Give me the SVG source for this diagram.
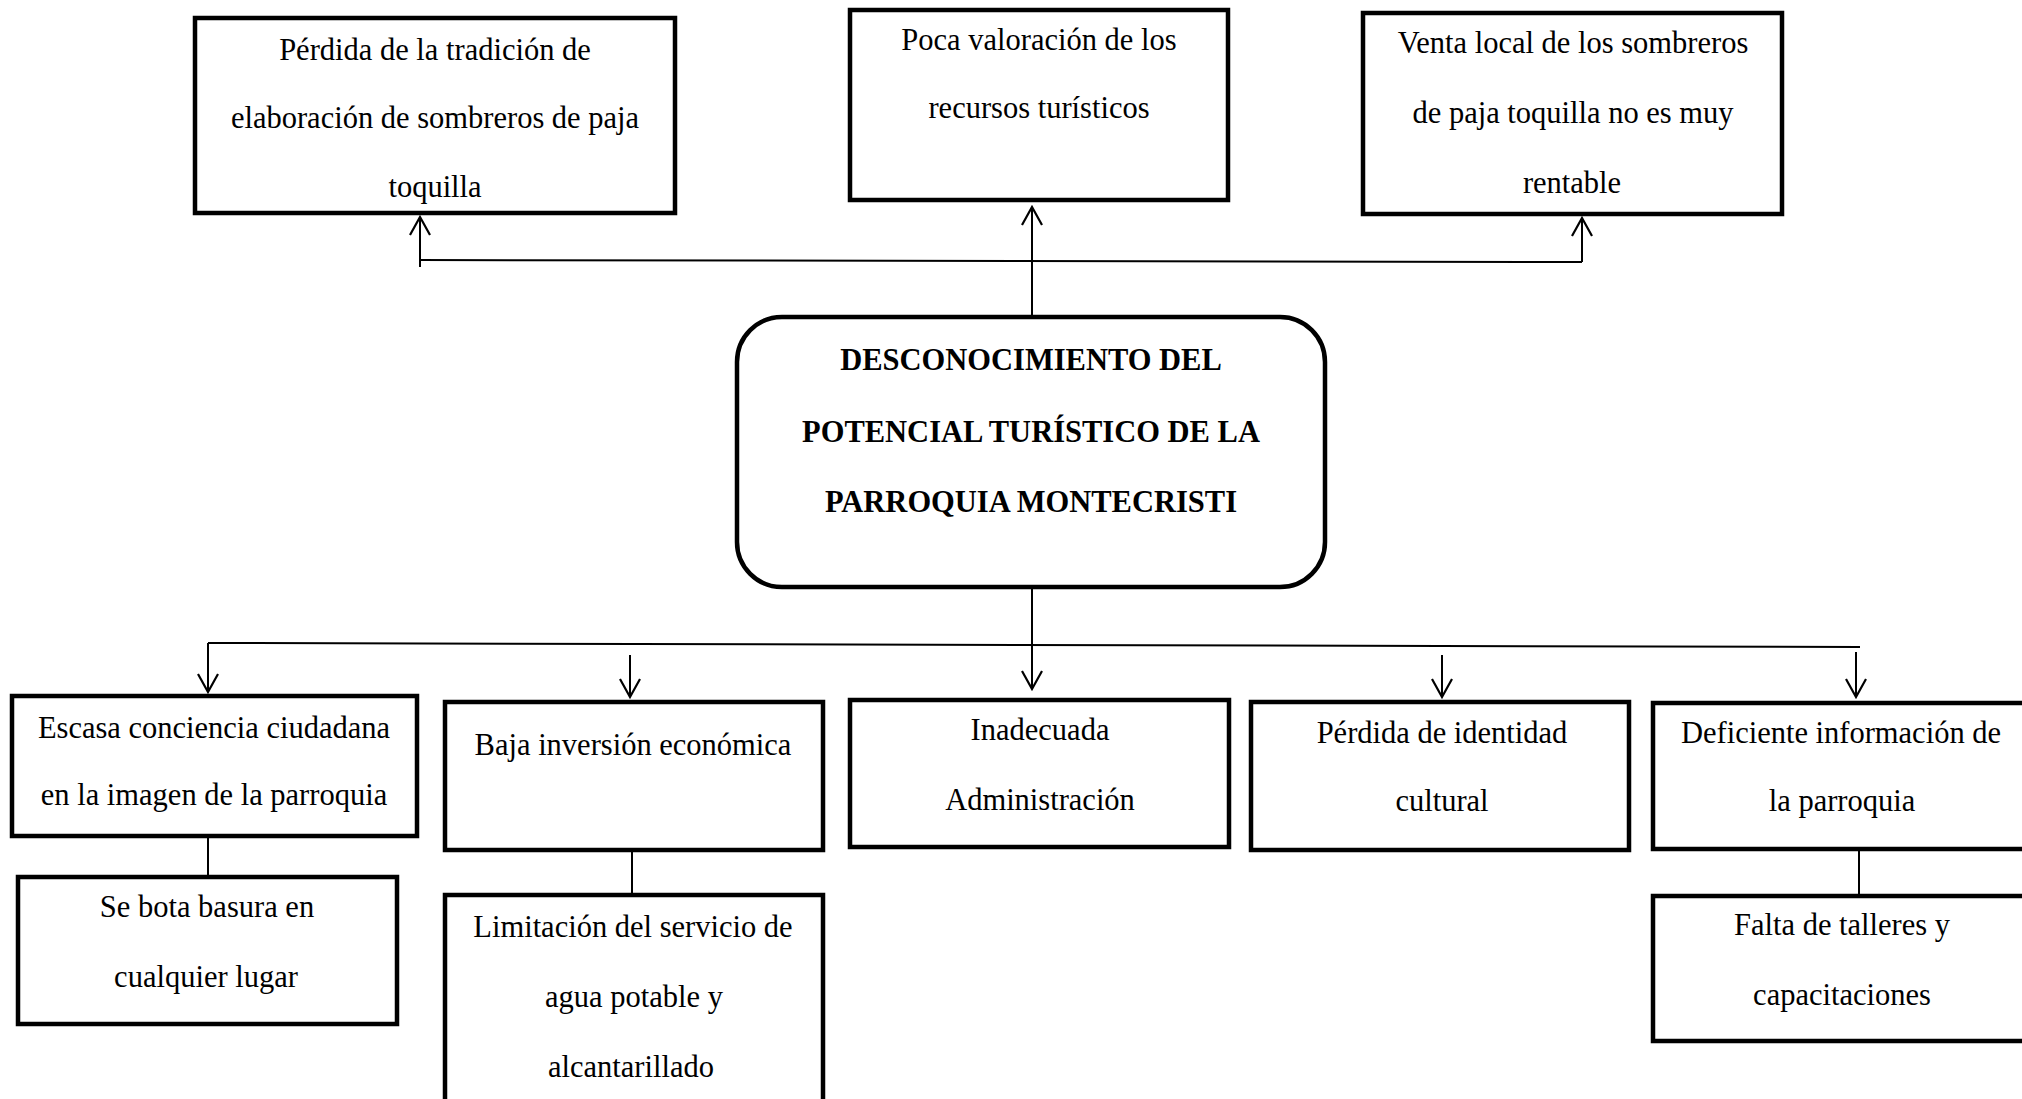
<svg xmlns="http://www.w3.org/2000/svg" width="2022" height="1099" viewBox="0 0 2022 1099">
<style>
.box{fill:#fff;stroke:#000;stroke-width:4.5}
.main{fill:#fff;stroke:#000;stroke-width:4.5}
.t{font-family:"Liberation Serif","Times New Roman",serif;font-size:30.5px;fill:#000;text-anchor:middle}
.b{font-weight:bold}
.c{stroke:#000;stroke-width:2;fill:none}
</style>
<defs>
<marker id="ah" markerUnits="userSpaceOnUse" viewBox="-20 -12 22 24" refX="0" refY="0" markerWidth="22" markerHeight="24" orient="auto">
<path d="M-18,-10 L0,0 L-18,10" fill="none" stroke="#000" stroke-width="2.2"/>
</marker>
</defs>
<rect width="2022" height="1099" fill="#fff"/>
<g id="connectors">
<line class="c" x1="420" y1="260" x2="1582" y2="262"/>
<line class="c" x1="420" y1="267" x2="420" y2="217" marker-end="url(#ah)"/>
<line class="c" x1="1032" y1="317" x2="1032" y2="207" marker-end="url(#ah)"/>
<line class="c" x1="1582" y1="262" x2="1582" y2="218" marker-end="url(#ah)"/>
<line class="c" x1="208" y1="643" x2="1860" y2="647"/>
<line class="c" x1="208" y1="643" x2="208" y2="692" marker-end="url(#ah)"/>
<line class="c" x1="630" y1="655" x2="630" y2="697" marker-end="url(#ah)"/>
<line class="c" x1="1032" y1="587" x2="1032" y2="689" marker-end="url(#ah)"/>
<line class="c" x1="1442" y1="655" x2="1442" y2="697" marker-end="url(#ah)"/>
<line class="c" x1="1856" y1="652" x2="1856" y2="697" marker-end="url(#ah)"/>
<line class="c" x1="208" y1="826" x2="208" y2="877"/>
<line class="c" x1="632" y1="850" x2="632" y2="895"/>
<line class="c" x1="1859" y1="849" x2="1859" y2="896"/>
</g>
<g id="n-perdida-tradicion">
<rect class="box" x="195" y="18" width="480" height="195"/>
<text class="t" x="435" y="60">Pérdida de la tradición de</text>
<text class="t" x="435" y="128">elaboración de sombreros de paja</text>
<text class="t" x="435" y="197">toquilla</text>
</g>
<g id="n-poca-valoracion">
<rect class="box" x="850" y="10" width="378" height="190"/>
<text class="t" x="1039" y="50">Poca valoración de los</text>
<text class="t" x="1039" y="118">recursos turísticos</text>
</g>
<g id="n-venta-local">
<rect class="box" x="1363" y="13" width="419" height="201"/>
<text class="t" x="1573" y="53">Venta local de los sombreros</text>
<text class="t" x="1573" y="123">de paja toquilla no es muy</text>
<text class="t" x="1572" y="193">rentable</text>
</g>
<g id="n-main">
<rect class="main" x="737" y="317" width="588" height="270" rx="45" ry="45"/>
<text class="t b" x="1031" y="370">DESCONOCIMIENTO DEL</text>
<text class="t b" x="1031" y="442">POTENCIAL TURÍSTICO DE LA</text>
<text class="t b" x="1031" y="512">PARROQUIA MONTECRISTI</text>
</g>
<g id="n-escasa">
<rect class="box" x="12" y="696" width="405" height="140"/>
<text class="t" x="214" y="738">Escasa conciencia ciudadana</text>
<text class="t" x="214" y="805">en la imagen de la parroquia</text>
</g>
<g id="n-se-bota">
<rect class="box" x="18" y="877" width="379" height="147"/>
<text class="t" x="207" y="917">Se bota basura en</text>
<text class="t" x="206" y="987">cualquier lugar</text>
</g>
<g id="n-baja">
<rect class="box" x="445" y="702" width="378" height="148"/>
<text class="t" x="633" y="755">Baja inversión económica</text>
</g>
<g id="n-limitacion">
<rect class="box" x="445" y="895" width="378" height="220"/>
<text class="t" x="633" y="937">Limitación del servicio de</text>
<text class="t" x="634" y="1007">agua potable y</text>
<text class="t" x="631" y="1077">alcantarillado</text>
</g>
<g id="n-inadecuada">
<rect class="box" x="850" y="700" width="379" height="147"/>
<text class="t" x="1040" y="740">Inadecuada</text>
<text class="t" x="1040" y="810">Administración</text>
</g>
<g id="n-perdida-identidad">
<rect class="box" x="1251" y="702" width="378" height="148"/>
<text class="t" x="1442" y="743">Pérdida de identidad</text>
<text class="t" x="1442" y="811">cultural</text>
</g>
<g id="n-deficiente">
<rect class="box" x="1653" y="703" width="400" height="146"/>
<text class="t" x="1841" y="743">Deficiente información de</text>
<text class="t" x="1842" y="811">la parroquia</text>
</g>
<g id="n-falta">
<rect class="box" x="1653" y="896" width="400" height="145"/>
<text class="t" x="1842" y="935">Falta de talleres y</text>
<text class="t" x="1842" y="1005">capacitaciones</text>
</g>
</svg>
